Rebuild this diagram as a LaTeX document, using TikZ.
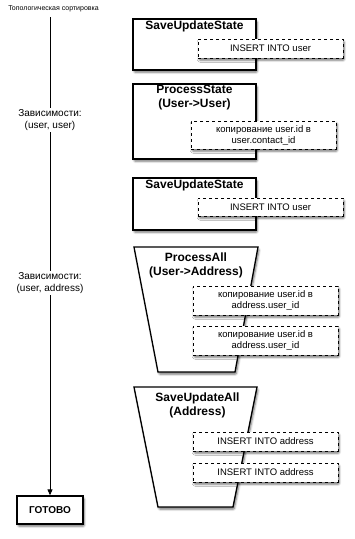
\documentclass[tikz,border=0pt]{standalone}
\usepackage{fontspec}
\setmainfont{Liberation Sans}
\usetikzlibrary{shadows,shadows.blur,arrows.meta}
\begin{document}
\begin{tikzpicture}[x=1pt,y=-1pt,
  shad/.style={blur shadow={shadow blur steps=6, shadow blur extra rounding=1pt, shadow xshift=1.2pt, shadow yshift=-2.2pt, shadow opacity=55}},
  stage/.style={draw, line width=1.3pt, fill=white, shad, minimum width=123pt, inner sep=0pt},
  trap/.style={draw, line width=1.3pt, fill=white, shad, line join=miter},
  op/.style={draw, dashed, line width=0.8pt, fill=white, shad, minimum width=145pt, align=center, font=\fontsize{9.5}{11}\selectfont, inner sep=0pt},
  ttl/.style={font=\bfseries\fontsize{12}{14}\selectfont, align=center, inner sep=0pt},
  dep/.style={fill=white, align=center, font=\fontsize{10}{12}\selectfont, inner sep=1pt},
  done/.style={draw, line width=1.3pt, fill=white, shad, minimum width=66pt, minimum height=28pt, inner sep=0pt, font=\bfseries\fontsize{10}{12}\selectfont}]
\useasboundingbox (0,0) rectangle (354,539);

% left axis
\node[font=\fontsize{7}{8}\selectfont, inner sep=0pt] (topo) at (53.5,9) {Топологическая сортировка};
\node[done] (finish) at (50,510) {ГОТОВО};
\draw[line width=0.9pt, -{Triangle[length=6pt,width=5pt]}] (topo.south -| finish.north) ++(0,5) -- (finish.north);
\node[dep] (dep1) at (50,120) {Зависимости:\\(user, user)};
\node[dep] (dep2) at (50,283) {Зависимости:\\(user, address)};

% stage 1
\node[stage, minimum height=51pt] (s1) at (194.5,44.5) {};
\node[ttl] (s1t) at (194.5,26) {SaveUpdateState};
\node[op, minimum height=19pt] (o1) at (270.5,48.5) {INSERT INTO user};

% stage 2
\node[stage, minimum height=75pt] (s2) at (194.5,121.5) {};
\node[ttl] (s2t) at (194.5,98) {ProcessState\\(User->User)};
\node[op, minimum height=28pt] (o2) at (263.5,135) {копирование user.id в\\user.contact\_id};

% stage 3
\node[stage, minimum height=52pt] (s3) at (194.5,204) {};
\node[ttl] (s3t) at (194.5,185) {SaveUpdateState};
\node[op, minimum height=18pt] (o3) at (270.5,207) {INSERT INTO user};

% stage 4
\path[trap] (134,247) -- (258,247) -- (235,372) -- (158,372) -- cycle;
\node[ttl] (s4t) at (196,265) {ProcessAll\\(User->Address)};
\node[op, minimum height=29pt] (o4) at (265.5,300.5) {копирование user.id в\\address.user\_id};
\node[op, minimum height=29pt] (o5) at (265.5,340.5) {копирование user.id в\\address.user\_id};

% stage 5
\path[trap] (134,387) -- (257,387) -- (233,507) -- (158,507) -- cycle;
\node[ttl] (s5t) at (197.5,405.5) {SaveUpdateAll\\(Address)};
\node[op, minimum height=19pt] (o6) at (265.5,441.5) {INSERT INTO address};
\node[op, minimum height=19pt] (o7) at (265.5,472.5) {INSERT INTO address};
\end{tikzpicture}
\end{document}
